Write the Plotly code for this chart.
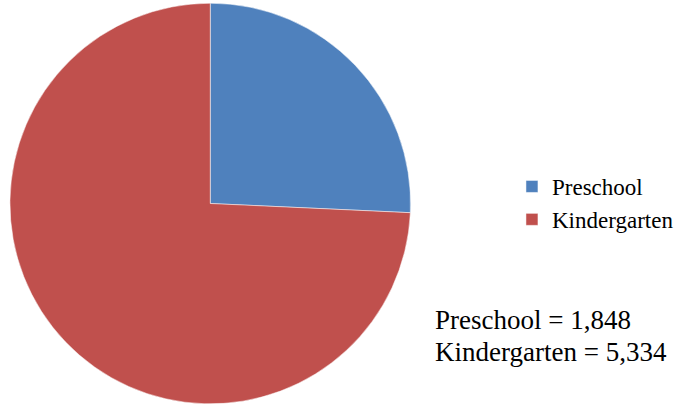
import plotly.graph_objects as go

labels = ["Preschool", "Kindergarten"]
values = [1848, 5334]
colors = ["#4F81BD", "#C0504D"]
note_lines = ["Preschool = 1,848", "Kindergarten = 5,334"]

W, H = 679, 406
SERIF = "Liberation Serif"
fig = go.Figure(go.Pie(
    labels=labels, values=values, sort=False, direction="clockwise", rotation=0,
    marker=dict(colors=colors, line=dict(color="white", width=0.5)),
    textinfo="none", hoverinfo="label+value+percent",
    domain=dict(x=[10 / W, 413 / W], y=[1 - 405 / H, 1 - 2 / H]),
))
note_y = [320, 352]
fig.update_layout(
    width=W, height=H, margin=dict(l=0, r=0, t=0, b=0),
    paper_bgcolor="white", plot_bgcolor="white",
    font=dict(family=SERIF, color="black", size=23),
    legend=dict(x=515 / W, y=1 - 165 / H, xanchor="left", yanchor="top",
                font=dict(family=SERIF, size=23, color="black"), tracegroupgap=0),
    annotations=[dict(text=t, x=436 / W, y=1 - yy / H,
                      xref="paper", yref="paper", xanchor="left", yanchor="middle",
                      align="left", showarrow=False,
                      font=dict(family=SERIF, size=27, color="black"))
                 for t, yy in zip(note_lines, note_y)],
)
fig.write_html("out.html")
